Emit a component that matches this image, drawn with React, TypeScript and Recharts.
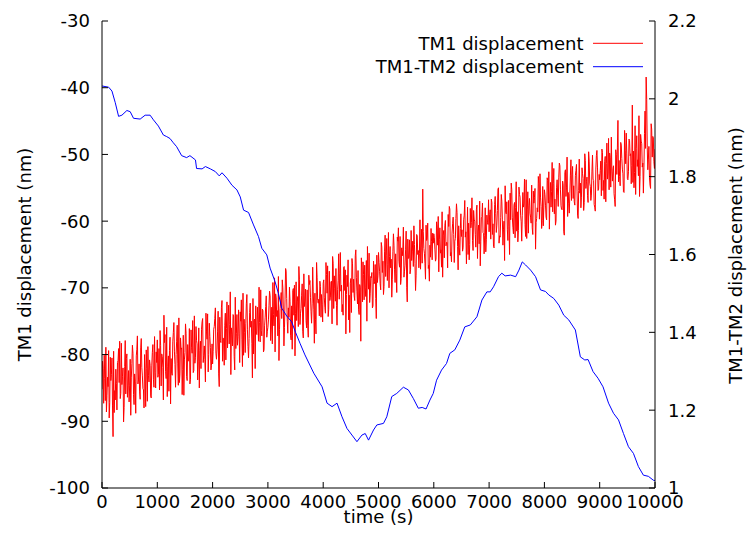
import React from 'react';
import { LineChart, Line, XAxis, YAxis, Legend } from 'recharts';

const X_TICKS = [0, 1000, 2000, 3000, 4000, 5000, 6000, 7000, 8000, 9000, 10000];
const LEFT_TICKS = [-100, -90, -80, -70, -60, -50, -40, -30];
const RIGHT_TICKS = [1, 1.2, 1.4, 1.6, 1.8, 2, 2.2];

const SERIES_TM1 = 'TM1 displacement';
const SERIES_DIFF = 'TM1-TM2 displacement';
const X_TITLE = 'time (s)';
const LEFT_TITLE = 'TM1 displacement (nm)';
const RIGHT_TITLE = 'TM1-TM2 displacement (nm)';

// TM1 displacement (nm), samples at t = 0, 20, 40, ... 10000 s
const TM1_SAMPLE_STEP_S = 20;
const TM1_VALUES = [
  -85.2, -82.1, -80.1, -86.9, -88.6, -83.4, -79.4, -87.2, -83.9, -80.5, -92.3, -88.7, -86.8, -84.3, -81.2, -79.1, -78.0, -85.8, -84.5, -82.0, -87.9, -77.9, -80.6, -86.4, -82.4,
  -84.7, -89.1, -81.3, -79.8, -87.5, -84.0, -80.2, -77.2, -83.8, -85.6, -79.0, -81.9, -85.1, -88.0, -82.6, -79.3, -87.0, -83.1, -80.8, -86.2, -81.7, -78.5, -84.9, -82.7, -79.6,
  -77.8, -83.0, -85.3, -78.6, -79.9, -81.9, -74.1, -77.0, -83.6, -86.3, -80.2, -79.4, -87.4, -82.8, -78.1, -75.2, -81.5, -80.0, -75.6, -84.6, -84.2, -77.5, -79.0, -82.2, -86.1,
  -79.7, -76.8, -83.9, -80.9, -76.1, -83.7, -78.9, -74.9, -82.4, -81.3, -75.8, -78.4, -81.1, -85.0, -78.0, -76.2, -74.6, -80.1, -80.7, -73.8, -77.7, -82.6, -75.3, -78.9, -81.6,
  -81.4, -76.2, -74.6, -79.8, -79.3, -73.5, -84.8, -77.9, -72.9, -81.0, -77.6, -75.6, -80.8, -72.1, -75.1, -78.4, -70.6, -76.0, -78.7, -74.2, -82.3, -79.1, -74.0, -77.3, -76.9,
  -73.6, -71.8, -81.8, -80.1, -76.7, -75.4, -71.0, -78.8, -77.6, -72.3, -75.0, -83.5, -79.9, -74.7, -72.7, -77.0, -74.8, -69.9, -78.1, -76.4, -73.2, -79.6, -75.7, -72.8, -77.4,
  -75.9, -72.6, -71.2, -76.3, -78.4, -74.0, -68.5, -70.9, -74.3, -77.2, -80.9, -73.1, -70.7, -68.8, -73.5, -75.9, -67.1, -71.6, -76.8, -74.4, -72.0, -77.8, -79.2, -70.1, -69.6,
  -73.9, -74.9, -71.3, -66.8, -75.5, -73.1, -69.4, -77.5, -72.8, -70.2, -76.0, -75.6, -68.1, -68.9, -73.6, -72.4, -70.6, -78.3, -74.7, -66.2, -71.9, -71.7, -69.0, -74.4, -72.5,
  -69.3, -71.5, -73.8, -68.0, -66.7, -73.2, -71.9, -69.1, -75.4, -66.3, -68.2, -72.0, -72.6, -70.3, -64.9, -67.9, -70.5, -73.6, -74.1, -66.8, -67.3, -71.0, -69.8, -74.8, -76.7,
  -68.6, -65.6, -70.7, -71.2, -65.2, -68.4, -72.4, -73.3, -69.5, -78.0, -67.0, -66.1, -71.8, -70.0, -65.9, -63.8, -70.2, -72.2, -68.3, -67.7, -72.7, -69.4, -66.5, -74.6, -69.2,
  -64.7, -67.6, -70.3, -63.9, -66.0, -69.8, -62.1, -65.1, -68.9, -61.7, -65.3, -67.0, -71.4, -64.6, -63.6, -69.2, -67.8, -62.4, -61.0, -66.9, -69.5, -64.0, -64.2, -68.4, -66.6,
  -61.5, -72.1, -65.6, -62.8, -67.3, -65.9, -63.0, -60.7, -66.4, -68.1, -62.2, -64.4, -64.9, -67.2, -61.2, -55.2, -64.1, -66.3, -60.6, -62.5, -67.1, -69.0, -65.4, -63.1, -61.8,
  -61.9, -64.2, -65.7, -60.9, -59.3, -62.8, -64.8, -66.9, -68.4, -61.4, -60.6, -63.7, -63.2, -59.0, -57.8, -65.2, -66.1, -60.4, -62.0, -63.0, -59.6, -58.7, -67.3, -64.0, -61.1,
  -62.3, -64.5, -59.8, -56.9, -61.6, -62.7, -65.0, -65.8, -58.1, -60.2, -62.9, -58.4, -60.0, -63.9, -57.6, -61.5, -63.4, -66.7, -59.5, -57.3, -61.8, -62.2, -64.6, -59.1, -60.5,
  -61.6, -58.3, -56.7, -62.0, -63.8, -57.5, -58.9, -60.6, -55.2, -63.3, -62.4, -56.0, -59.7, -61.2, -65.9, -58.7, -57.1, -62.9, -60.8, -55.8, -54.3, -59.4, -61.9, -57.2, -58.0,
  -61.5, -63.1, -54.9, -56.4, -60.1, -59.2, -57.9, -53.7, -62.3, -62.6, -55.6, -57.7, -58.8, -60.3, -61.0, -55.5, -56.5, -64.2, -59.6, -58.6, -54.4, -52.9, -57.8, -59.9, -60.7,
  -55.3, -57.6, -59.8, -53.9, -52.6, -56.8, -57.9, -51.2, -54.4, -58.9, -60.6, -55.0, -56.1, -53.4, -51.7, -57.7, -58.3, -54.6, -62.1, -52.3, -54.9, -59.3, -57.4, -55.9, -50.8,
  -53.0, -56.6, -57.1, -53.2, -51.5, -59.1, -55.4, -55.8, -58.0, -52.0, -53.6, -57.2, -50.9, -54.1, -56.2, -49.6, -54.3, -56.9, -52.5, -53.7, -57.5, -58.5, -50.2, -51.9, -55.2,
  -53.8, -51.0, -49.2, -55.4, -56.7, -50.3, -51.4, -53.7, -47.6, -49.8, -54.9, -52.5, -52.1, -55.9, -57.8, -50.0, -48.9, -54.1, -53.3, -48.2, -50.6, -52.9, -55.7, -49.4, -46.8,
  -53.6, -52.6, -47.9, -49.9, -51.7, -54.2, -55.0, -45.7, -49.1, -51.8, -53.2, -56.3, -47.0, -48.4, -51.3, -52.0, -43.5, -38.4, -49.0, -50.7, -53.5, -55.1, -46.2, -47.3, -51.1,
  -49.2,
];

// TM1 displacement (nm), samples at t = 10, 30, 50, ... 9990 s
const TM1_MID_OFFSET_S = 10;
const TM1_MID_VALUES = [
  -81.0, -87.3, -83.6, -78.9, -86.1, -84.8, -89.5, -80.4, -83.0, -87.7, -79.5, -85.4, -82.2, -88.3, -80.9, -84.2, -86.6, -78.3, -83.3, -90.1, -81.8, -85.9, -79.9, -84.6, -87.1,
  -80.7, -83.5, -78.6, -86.0, -82.9, -88.8, -79.2, -84.4, -81.4, -86.7, -77.6, -83.2, -85.3, -80.0, -87.8, -82.1, -78.8, -84.1, -81.6, -86.5, -79.7, -83.7, -77.3, -85.0, -81.2,
  -83.4, -79.1, -76.4, -84.7, -80.3, -86.8, -78.2, -82.5, -75.9, -81.8, -85.5, -77.4, -80.6, -83.1, -76.7, -79.6, -84.9, -78.0, -81.4, -74.5, -82.9, -79.2, -86.0, -77.1, -80.8,
  -75.4, -83.3, -78.5, -81.0, -84.4, -76.3, -79.8, -82.7, -74.2, -80.4, -77.9, -83.8, -76.0, -79.4, -82.1, -75.1, -81.2, -78.7, -84.1, -76.6, -73.9, -80.0, -77.3, -82.3, -78.4,
  -79.5, -75.8, -73.0, -80.7, -76.6, -82.9, -74.4, -78.2, -71.9, -77.5, -81.6, -73.8, -76.1, -79.0, -72.6, -75.5, -83.0, -77.0, -74.0, -80.3, -71.4, -76.8, -78.6, -73.3, -81.2,
  -75.0, -77.8, -70.8, -74.7, -79.7, -72.4, -76.3, -80.5, -73.7, -75.9, -78.3, -71.6, -74.9, -82.1, -76.9, -72.9, -78.0, -75.2, -70.3, -77.2, -73.4, -79.3, -74.5, -71.2, -76.5,
  -74.8, -70.5, -77.9, -72.9, -69.2, -75.7, -79.6, -71.5, -73.4, -68.3, -76.2, -72.2, -74.6, -70.0, -78.7, -71.8, -67.5, -75.0, -73.0, -69.9, -77.1, -72.7, -70.4, -74.1, -80.2,
  -69.1, -72.1, -75.8, -68.7, -73.8, -71.1, -76.5, -67.9, -72.0, -74.9, -70.3, -77.4, -69.5, -71.4, -75.3, -66.9, -73.3, -70.8, -76.9, -68.5, -72.3, -74.2, -69.8, -71.0, -75.1,
  -68.8, -72.9, -66.2, -70.8, -74.3, -67.5, -71.4, -69.0, -65.3, -73.1, -70.1, -67.1, -75.6, -68.9, -71.7, -64.7, -69.6, -72.5, -66.9, -70.4, -76.9, -68.1, -65.8, -71.1, -69.3,
  -73.7, -66.4, -68.7, -71.9, -64.3, -70.6, -67.4, -74.0, -69.9, -65.5, -72.1, -68.0, -66.6, -71.3, -75.0, -67.8, -64.8, -70.9, -68.5, -73.0, -66.0, -69.1, -71.6, -65.1, -68.2,
  -66.2, -69.4, -63.2, -67.7, -71.0, -64.5, -68.3, -62.6, -66.5, -70.0, -63.8, -65.7, -68.8, -61.9, -67.2, -64.9, -70.7, -63.0, -66.0, -62.3, -68.6, -65.2, -60.9, -67.5, -64.3,
  -69.9, -62.7, -65.5, -67.9, -61.4, -64.6, -66.8, -63.5, -70.4, -62.0, -65.0, -67.0, -59.8, -63.9, -66.3, -61.6, -64.8, -68.7, -62.9, -60.3, -66.6, -63.6, -61.1, -65.8, -63.3,
  -62.5, -66.0, -60.1, -63.6, -67.6, -61.0, -64.3, -58.6, -62.1, -65.5, -59.9, -63.2, -67.0, -60.8, -58.2, -64.7, -61.8, -59.4, -66.2, -62.6, -57.4, -63.8, -60.7, -65.1, -58.9,
  -61.3, -64.0, -59.1, -62.4, -66.4, -57.9, -60.3, -63.5, -61.0, -56.5, -64.4, -59.7, -62.0, -58.3, -65.6, -60.6, -57.0, -63.1, -59.3, -61.7, -64.9, -58.0, -62.8, -60.2, -56.8,
  -59.0, -62.7, -57.2, -60.4, -64.0, -56.3, -61.7, -58.4, -55.0, -62.2, -59.5, -57.0, -63.6, -60.0, -54.7, -58.9, -61.3, -56.9, -65.0, -59.8, -55.3, -60.9, -57.6, -62.5, -54.1,
  -58.6, -61.4, -56.0, -59.1, -63.0, -55.7, -57.4, -60.5, -53.8, -58.2, -61.8, -56.6, -59.4, -54.6, -62.0, -57.3, -55.1, -60.2, -58.0, -53.3, -59.7, -56.4, -61.1, -54.8, -57.9,
  -56.0, -59.4, -53.5, -57.3, -61.2, -54.2, -55.6, -58.6, -52.1, -56.7, -60.0, -53.8, -57.8, -51.3, -55.2, -58.2, -54.0, -61.6, -52.7, -56.3, -50.4, -55.7, -58.8, -53.1, -56.9,
  -51.8, -54.7, -57.6, -52.4, -55.5, -59.6, -50.7, -54.3, -56.4, -52.9, -58.4, -49.9, -55.1, -53.4, -57.2, -51.0, -54.8, -56.1, -50.1, -53.9, -57.9, -52.2, -49.4, -55.4, -53.0,
  -52.4, -56.2, -49.7, -53.9, -51.1, -57.1, -48.3, -52.8, -55.3, -50.5, -47.4, -54.0, -51.7, -56.8, -49.3, -53.0, -44.9, -50.9, -54.7, -48.6, -52.2, -55.6, -46.4, -51.4, -49.8,
  -53.8, -47.7, -50.2, -54.4, -42.6, -49.5, -52.7, -56.0, -47.2, -50.8, -44.2, -53.3, -48.0, -51.9, -55.8, -46.9, -49.1, -41.8, -52.3, -48.8, -54.6, -45.4, -50.4, -47.5, -52.1,
];

// TM1-TM2 displacement (nm)
const DIFF_TIMES = [
  0, 120, 180, 240, 300, 360, 450, 510, 570, 690, 780, 870, 930, 1020, 1110, 1170, 1230, 1290, 1350, 1440,
  1530, 1590, 1690, 1710, 1810, 1870, 1960, 2050, 2120, 2170, 2260, 2350, 2440, 2500, 2560, 2650, 2740, 2830, 2890, 2980,
  3040, 3130, 3190, 3250, 3340, 3430, 3500, 3580, 3670, 3830, 3980, 4070, 4160, 4250, 4340, 4430, 4520, 4610, 4700, 4760,
  4820, 4910, 4970, 5090, 5150, 5240, 5330, 5450, 5540, 5630, 5720, 5790, 5860, 5930, 5990, 6050, 6140, 6230, 6290, 6380,
  6470, 6560, 6660, 6780, 6870, 6960, 7020, 7080, 7170, 7230, 7290, 7390, 7480, 7540, 7600, 7660, 7750, 7840, 7930, 8020,
  8080, 8170, 8260, 8350, 8440, 8560, 8650, 8730, 8790, 8880, 8970, 9060, 9160, 9250, 9340, 9430, 9520, 9610, 9700, 9790,
  9880, 9970, 10000,
];
const DIFF_VALUES = [
  2.033, 2.03, 2.02, 1.99, 1.955, 1.958, 1.97, 1.967, 1.95, 1.948, 1.958, 1.958, 1.946, 1.93, 1.907, 1.903, 1.898, 1.887, 1.877, 1.854,
  1.849, 1.854, 1.843, 1.821, 1.82, 1.826, 1.82, 1.813, 1.802, 1.81, 1.796, 1.778, 1.766, 1.748, 1.714, 1.708, 1.676, 1.646, 1.616, 1.599,
  1.565, 1.53, 1.5, 1.462, 1.442, 1.427, 1.4, 1.372, 1.342, 1.295, 1.26, 1.218, 1.209, 1.218, 1.183, 1.153, 1.136, 1.119, 1.136, 1.14,
  1.123, 1.149, 1.162, 1.166, 1.183, 1.235, 1.243, 1.259, 1.252, 1.23, 1.205, 1.207, 1.203, 1.226, 1.243, 1.277, 1.303, 1.32, 1.346, 1.355,
  1.38, 1.414, 1.419, 1.44, 1.483, 1.504, 1.504, 1.517, 1.543, 1.552, 1.545, 1.547, 1.543, 1.56, 1.581, 1.573, 1.56, 1.543, 1.509, 1.505,
  1.496, 1.487, 1.47, 1.444, 1.432, 1.406, 1.337, 1.329, 1.33, 1.299, 1.282, 1.26, 1.218, 1.192, 1.175, 1.14, 1.106, 1.089, 1.055, 1.033,
  1.03, 1.02, 1.019,
];

const tm1Data = [
  ...TM1_VALUES.map((v, i) => ({ t: i * TM1_SAMPLE_STEP_S, tm1: v })),
  ...TM1_MID_VALUES.map((v, i) => ({ t: TM1_MID_OFFSET_S + i * TM1_SAMPLE_STEP_S, tm1: v })),
].sort((a, b) => a.t - b.t);
const diffData = DIFF_TIMES.map((t, i) => ({ t, diff: DIFF_VALUES[i] }));

const FONT = "'DejaVu Sans', 'Noto Sans', sans-serif";
const FS = 18;

const LegendContent = (props: any) => {
  const items: any[] = props.payload || [];
  const order = [SERIES_TM1, SERIES_DIFF];
  const sorted = order
    .map((n) => items.find((it) => it.value === n))
    .filter(Boolean);
  return (
    <svg width={275} height={55} style={{ display: 'block', overflow: 'visible' }}>
      {sorted.map((it: any, i: number) => {
        const cy = 18.3 + i * 23.4;
        return (
          <g key={it.value}>
            <text
              x={203.5}
              y={cy}
              textAnchor="end"
              dominantBaseline="central"
              fontSize={FS}
              fontFamily={FONT}
              fill="#000"
            >
              {it.value}
            </text>
            <line x1={213} x2={263} y1={cy} y2={cy} stroke={it.color} strokeWidth={1} />
          </g>
        );
      })}
    </svg>
  );
};

const LeftTitle = (props: any) => {
  const vb = props.viewBox || {};
  const cx = vb.x + 24;
  const cy = vb.y + vb.height / 2;
  return (
    <text
      x={cx}
      y={cy}
      transform={`rotate(-90, ${cx}, ${cy})`}
      textAnchor="middle"
      dominantBaseline="central"
      fontSize={FS}
      fontFamily={FONT}
      fill="#000"
    >
      {LEFT_TITLE}
    </text>
  );
};

const RightTitle = (props: any) => {
  const vb = props.viewBox || {};
  const cx = vb.x + 80;
  const cy = vb.y + vb.height / 2 + 1;
  return (
    <text
      x={cx}
      y={cy}
      transform={`rotate(-90, ${cx}, ${cy})`}
      textAnchor="middle"
      dominantBaseline="central"
      fontSize={FS}
      fontFamily={FONT}
      fill="#000"
    >
      {RIGHT_TITLE}
    </text>
  );
};

const BottomTitle = (props: any) => {
  const vb = props.viewBox || {};
  const cx = vb.x + vb.width / 2;
  const cy = vb.y + 28.5;
  return (
    <text
      x={cx}
      y={cy}
      textAnchor="middle"
      dominantBaseline="central"
      fontSize={FS}
      fontFamily={FONT}
      fill="#000"
    >
      {X_TITLE}
    </text>
  );
};

const tickStyle = { fill: '#000', fontSize: FS, fontFamily: FONT };

export default function App() {
  return (
    <div
      style={{
        position: 'absolute',
        left: 0,
        top: 0,
        width: 749,
        height: 534,
        background: '#fff',
        fontFamily: FONT,
      }}
    >
      <LineChart width={749} height={534} margin={{ top: 21, right: 0, bottom: 0, left: 0 }}>
        <XAxis
          xAxisId="bottom"
          dataKey="t"
          type="number"
          domain={[0, 10000]}
          ticks={X_TICKS}
          interval={0}
          height={46}
          tickSize={-6}
          tickMargin={13}
          tick={tickStyle}
          stroke="#000"
          tickLine={{ stroke: '#000' }}
          axisLine={{ stroke: '#000' }}
          label={{ content: BottomTitle }}
          allowDataOverflow
        />
        <XAxis
          xAxisId="top"
          orientation="top"
          dataKey="t"
          type="number"
          domain={[0, 10000]}
          ticks={X_TICKS}
          interval={0}
          height={0}
          tickSize={-6}
          tick={false}
          stroke="#000"
          tickLine={{ stroke: '#000' }}
          axisLine={{ stroke: '#000' }}
          allowDataOverflow
        />
        <YAxis
          yAxisId="left"
          orientation="left"
          type="number"
          domain={[-100, -30]}
          ticks={LEFT_TICKS}
          interval={0}
          width={102}
          tickSize={-6}
          tickMargin={18}
          tick={tickStyle}
          stroke="#000"
          tickLine={{ stroke: '#000' }}
          axisLine={{ stroke: '#000' }}
          label={{ content: LeftTitle }}
          allowDataOverflow
        />
        <YAxis
          yAxisId="right"
          orientation="right"
          type="number"
          domain={[1, 2.2]}
          ticks={RIGHT_TICKS}
          interval={0}
          width={94}
          tickSize={-6}
          tickMargin={19}
          tick={tickStyle}
          tickFormatter={(v: number) => String(Math.round(v * 10) / 10)}
          stroke="#000"
          tickLine={{ stroke: '#000' }}
          axisLine={{ stroke: '#000' }}
          label={{ content: RightTitle }}
          allowDataOverflow
        />
        <Legend
          layout="horizontal"
          verticalAlign="middle"
          align="center"
          content={LegendContent}
          wrapperStyle={{ position: 'absolute', left: 380, top: 25, width: 275, height: 55 }}
        />
        <Line
          xAxisId="bottom"
          yAxisId="left"
          data={tm1Data}
          dataKey="tm1"
          name={SERIES_TM1}
          type="linear"
          stroke="#ff0000"
          strokeWidth={1}
          dot={false}
          activeDot={false}
          isAnimationActive={false}
        />
        <Line
          xAxisId="bottom"
          yAxisId="right"
          data={diffData}
          dataKey="diff"
          name={SERIES_DIFF}
          type="linear"
          stroke="#0000ff"
          strokeWidth={1}
          dot={false}
          activeDot={false}
          isAnimationActive={false}
        />
      </LineChart>
    </div>
  );
}
